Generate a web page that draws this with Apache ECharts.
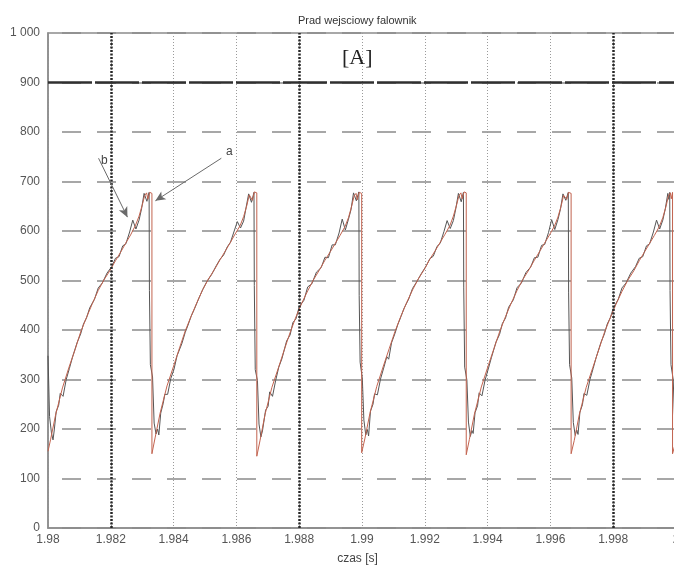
<!DOCTYPE html>
<html>
<head>
<meta charset="utf-8">
<script src="https://cdn.jsdelivr.net/npm/echarts@6/dist/echarts.min.js"></script>
<style>html,body{margin:0;padding:0;background:#fff}#c{width:674px;height:566px}</style>
</head>
<body>
<div id="c"></div>
<script>
// x-axis tick labels (czas [s]) and y-axis tick labels
const xTickLabels = ["1.98","1.982","1.984","1.986","1.988","1.99","1.992","1.994","1.996","1.998","2"];
const yTickLabels = ["0","100","200","300","400","500","600","700","800","900","1 000"];

// series "a" (red) - time [s] and current [A]
const timeRed = [
 1.98000,1.98008,1.98024,1.98046,1.98067,1.98086,1.98104,1.98123,1.98141,1.98160,1.98178,1.98198,1.98215,1.98233,1.98247,1.98263,1.98279,1.98290,1.98300,1.98308,1.98314,1.98318,1.98324,1.98331,
 1.98331,1.98341,1.98357,1.98379,1.98400,1.98419,1.98437,1.98456,1.98474,1.98493,1.98511,1.98531,1.98548,1.98566,1.98580,1.98596,1.98612,1.98623,1.98633,1.98641,1.98647,1.98651,1.98657,1.98665,
 1.98665,1.98675,1.98691,1.98713,1.98734,1.98753,1.98771,1.98790,1.98808,1.98827,1.98845,1.98865,1.98882,1.98900,1.98914,1.98930,1.98946,1.98957,1.98967,1.98975,1.98981,1.98985,1.98991,1.98999,
 1.98999,1.99009,1.99025,1.99047,1.99068,1.99087,1.99105,1.99124,1.99142,1.99161,1.99179,1.99199,1.99216,1.99234,1.99248,1.99264,1.99280,1.99291,1.99301,1.99309,1.99315,1.99319,1.99325,1.99332,
 1.99332,1.99342,1.99358,1.99380,1.99401,1.99420,1.99438,1.99457,1.99475,1.99494,1.99512,1.99532,1.99549,1.99567,1.99581,1.99597,1.99613,1.99624,1.99634,1.99642,1.99648,1.99652,1.99658,1.99666,
 1.99666,1.99676,1.99692,1.99714,1.99735,1.99754,1.99772,1.99791,1.99809,1.99828,1.99846,1.99866,1.99883,1.99901,1.99915,1.99931,1.99947,1.99958,1.99968,1.99976,1.99982,1.99985,1.99989,1.99989,2.00000
];
const currentRed = [
 155,178,228,283,325,360,396,426,453,480,501,521,540,559,575,592,612,630,652,672,677,664,678,676,
 150,182,232,287,327,364,398,428,455,482,503,523,542,561,576,594,611,629,651,673,677,662,679,677,
 145,176,229,284,324,361,395,427,454,479,501,522,541,559,574,591,609,627,650,671,676,663,678,676,
 152,180,231,286,327,363,397,428,455,481,503,523,543,561,576,593,611,630,652,672,677,665,679,677,
 148,179,230,285,326,362,396,427,454,480,502,522,541,560,575,592,610,628,650,672,676,664,678,676,
 150,177,229,284,324,360,395,425,452,478,500,520,540,559,574,591,609,627,649,671,677,665,678,150,176
];

// series "b" (grey) - time [s] and current [A]
const timeGray = [
 1.98000,1.98005,1.98011,1.98016,1.98020,1.98026,1.98034,1.98039,1.98048,1.98058,1.98068,1.98078,1.98084,1.98093,1.98104,1.98113,1.98123,1.98133,1.98148,1.98160,1.98173,1.98188,1.98203,1.98215,1.98226,1.98238,1.98248,1.98260,1.98270,1.98280,1.98290,1.98298,1.98306,1.98311,1.98315,1.98322,1.98323,1.98326,
 1.98333,1.98338,1.98344,1.98349,1.98353,1.98359,1.98367,1.98372,1.98381,1.98391,1.98401,1.98411,1.98417,1.98426,1.98437,1.98446,1.98456,1.98466,1.98481,1.98493,1.98506,1.98521,1.98536,1.98548,1.98559,1.98571,1.98581,1.98593,1.98603,1.98613,1.98623,1.98631,1.98639,1.98644,1.98648,1.98656,1.98657,1.98660,
 1.98667,1.98672,1.98678,1.98683,1.98687,1.98693,1.98701,1.98706,1.98715,1.98725,1.98735,1.98745,1.98751,1.98760,1.98771,1.98780,1.98790,1.98800,1.98815,1.98827,1.98840,1.98855,1.98870,1.98882,1.98893,1.98905,1.98915,1.98927,1.98937,1.98947,1.98957,1.98965,1.98973,1.98978,1.98982,1.98990,1.98991,1.98994,
 1.99001,1.99006,1.99012,1.99017,1.99021,1.99027,1.99035,1.99040,1.99049,1.99059,1.99069,1.99079,1.99085,1.99094,1.99105,1.99114,1.99124,1.99134,1.99149,1.99161,1.99174,1.99189,1.99204,1.99216,1.99227,1.99239,1.99249,1.99261,1.99271,1.99281,1.99291,1.99299,1.99307,1.99312,1.99316,1.99323,1.99324,1.99327,
 1.99334,1.99339,1.99345,1.99350,1.99354,1.99360,1.99368,1.99373,1.99382,1.99392,1.99402,1.99412,1.99418,1.99427,1.99438,1.99447,1.99457,1.99467,1.99482,1.99494,1.99507,1.99522,1.99537,1.99549,1.99560,1.99572,1.99582,1.99594,1.99604,1.99614,1.99624,1.99632,1.99640,1.99645,1.99649,1.99657,1.99658,1.99661,
 1.99668,1.99673,1.99679,1.99684,1.99688,1.99694,1.99702,1.99707,1.99716,1.99726,1.99736,1.99746,1.99752,1.99761,1.99772,1.99781,1.99791,1.99801,1.99816,1.99828,1.99841,1.99856,1.99871,1.99883,1.99894,1.99906,1.99916,1.99928,1.99938,1.99948,1.99958,1.99966,1.99974,1.99977,1.99980,1.99981,1.99984,1.99991,1.99996,2.00000
];
const currentGray = [
 348,225,192,178,198,235,248,272,266,300,322,345,343,375,392,412,425,445,462,485,495,515,528,545,548,570,574,598,622,604,622,645,676,678,660,678,480,330,
 305,212,190,200,188,232,252,270,270,302,320,348,345,372,395,410,428,442,465,482,498,512,530,543,551,568,577,600,619,606,620,648,675,679,658,678,490,320,
 298,210,184,196,192,238,246,275,266,298,325,342,346,378,390,415,423,447,460,487,493,517,526,547,546,572,572,596,624,602,624,643,677,677,661,679,470,335,
 302,218,188,199,186,236,250,271,269,301,323,346,341,374,393,411,427,444,463,484,497,514,529,544,549,569,575,599,621,605,621,646,676,678,659,678,485,325,
 299,214,185,197,191,233,247,273,267,299,321,344,344,376,391,413,424,446,461,486,494,516,527,546,547,571,573,597,623,603,623,644,675,678,662,678,475,330,
 303,213,187,198,189,234,249,272,268,300,322,345,343,375,392,412,425,445,462,485,495,515,528,545,548,570,574,598,622,604,622,645,676,664,678,480,330,300,215,192
];

// emphasised grid lines and annotation arrows (data coordinates)
const heavyTimes = [1.982, 1.988, 1.998];
const heavyLevel = 900;
const arrowA = [[1.98552, 747], [1.98342, 661]];
const arrowB = [[1.98161, 747], [1.98253, 628]];

const redData = timeRed.map((t, i) => [t, currentRed[i]]);
const grayData = timeGray.map((t, i) => [t, currentGray[i]]);

const FONT = '"Liberation Sans", Arial, sans-serif';
const chart = echarts.init(document.getElementById('c'), null, {renderer: 'canvas'});

const heavyStyleV = {color: '#262626', width: 2.5, type: [2, 1.5]};
const heavyMarks = heavyTimes.map(t => [
  {coord: [t, 0], lineStyle: heavyStyleV},
  {coord: [t, 1000]}
]);
heavyMarks.push([
  {coord: [1.98, heavyLevel], lineStyle: {color: '#303030', width: 2.5, type: [44, 3]}},
  {coord: [2.0, heavyLevel]}
]);

chart.setOption({
  animation: false,
  backgroundColor: '#fff',
  title: {
    text: 'Prad wejsciowy falownik',
    left: 293, top: 10,
    textStyle: {fontFamily: FONT, fontSize: 11, fontWeight: 'normal', color: '#333'}
  },
  grid: {left: 48, top: 33, width: 628, height: 495, outerBoundsMode: 'none', containLabel: false,
         show: true, borderColor: '#8c8c8c', borderWidth: 1.5, backgroundColor: 'transparent'},
  xAxis: {
    type: 'value', min: 1.98, max: 2.0, interval: 0.002,
    name: 'czas [s]', nameLocation: 'middle', nameGap: 25,
    nameTextStyle: {fontFamily: FONT, fontSize: 12, color: '#444', padding: [0, 9, 0, 0]},
    axisLine: {show: true, lineStyle: {color: '#8c8c8c', width: 1.5}},
    axisTick: {show: false},
    axisLabel: {
      margin: 6, fontFamily: FONT, fontSize: 12, color: '#555', hideOverlap: false,
      formatter: v => xTickLabels[Math.round((v - 1.98) / 0.002)] || ''
    },
    splitLine: {show: true, lineStyle: {color: '#9a9a9a', width: 1, type: [1, 2]}}
  },
  yAxis: {
    type: 'value', min: 0, max: 1000, interval: 100,
    axisLine: {show: true, lineStyle: {color: '#8c8c8c', width: 1.5}},
    axisTick: {show: false},
    axisLabel: {
      margin: 8, fontFamily: FONT, fontSize: 12, color: '#555',
      formatter: v => yTickLabels[Math.round(v / 100)] || ''
    },
    splitLine: {show: true, lineStyle: {color: '#8a8a8a', width: 1.5, type: [19, 16], dashOffset: 21}}
  },
  graphic: [
    {type: 'text', left: 342, top: 47, z: 10, style: {text: '[A]', font: '22px "Liberation Serif", "Times New Roman", serif', fill: '#222'}},
    {type: 'text', left: 226, top: 146, z: 10, style: {text: 'a', font: '12px "Liberation Sans", Arial, sans-serif', fill: '#444'}},
    {type: 'text', left: 101, top: 155, z: 10, style: {text: 'b', font: '12px "Liberation Sans", Arial, sans-serif', fill: '#444'}}
  ],
  series: [
    {
      name: 'grid', type: 'line', data: [], z: 1, silent: true,
      markLine: {silent: true, symbol: ['none', 'none'], label: {show: false}, animation: false, precision: 6, data: heavyMarks}
    },
    {
      name: 'b', type: 'line', data: grayData, showSymbol: false, z: 3,
      lineStyle: {color: '#555', width: 1}, itemStyle: {color: '#555'},
      markLine: {
        silent: true, symbol: ['none', 'arrow'], symbolSize: [7, 10], label: {show: false}, animation: false,
        lineStyle: {color: '#6a6a6a', width: 1, type: 'solid'},
        data: [
          [{coord: arrowA[0]}, {coord: arrowA[1]}],
          [{coord: arrowB[0]}, {coord: arrowB[1]}]
        ]
      }
    },
    {
      name: 'a', type: 'line', data: redData, showSymbol: false, z: 4,
      lineStyle: {color: '#c2634f', width: 1}, itemStyle: {color: '#c2634f'}
    }
  ]
});
</script>
</body>
</html>
